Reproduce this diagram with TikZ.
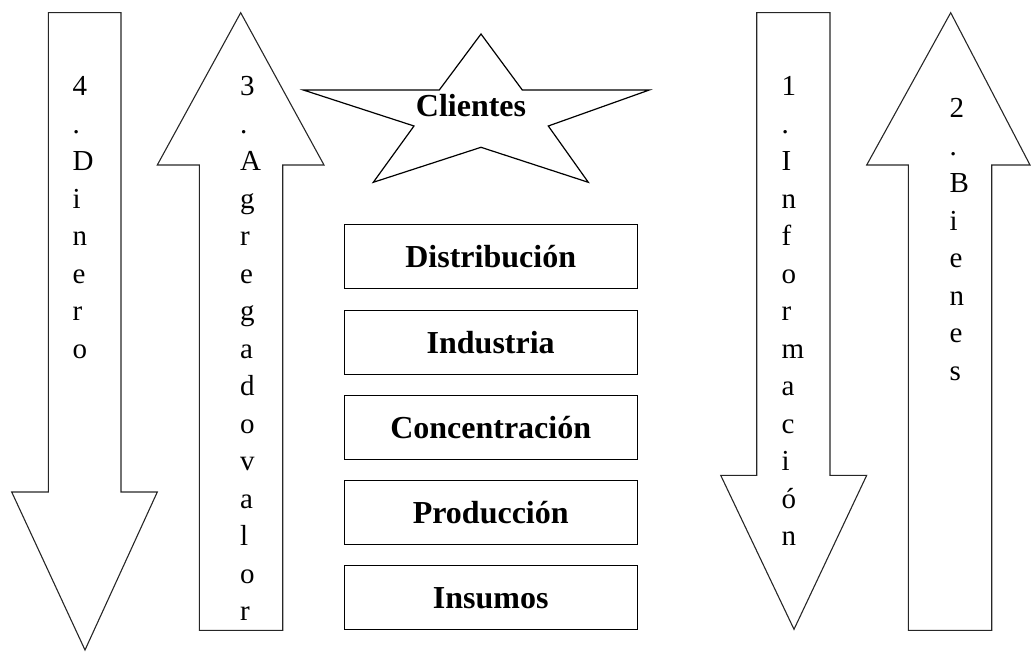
\documentclass[tikz,border=0pt]{standalone}
\usepackage{fontspec}
\setmainfont{Liberation Serif}
\begin{document}
\begin{tikzpicture}[x=1pt,y=-1pt,
  arrowshape/.style={draw=black!85,line width=1.1pt,line join=miter},
  starshape/.style={draw=black,line width=1.2pt,line join=miter},
  stage/.style={draw=black,line width=1.3pt,rectangle,minimum width=293pt,minimum height=64pt,
    inner sep=0pt,font=\fontsize{32}{38}\selectfont\bfseries,text height=22pt,text depth=0pt},
  vlabel/.style={anchor=north west,align=left,inner sep=0pt,font=\fontsize{29}{37.5}\selectfont},
  starlabel/.style={anchor=base,inner sep=0pt,font=\fontsize{32}{38}\selectfont\bfseries}]
\useasboundingbox (0,0) rectangle (1031,652);

% 4. Dinero (down)
\draw[arrowshape] (48.3,12.7) -- (121,12.7) -- (121,492) -- (157.3,492) -- (85,650)
  -- (11.7,492) -- (48.3,492) -- cycle;
% 3. Agregado valor (up)
\draw[arrowshape] (240.7,12.7) -- (324,165) -- (282.7,165) -- (282.7,630.3)
  -- (199.3,630.3) -- (199.3,165) -- (157.3,165) -- cycle;
% 1. Informacion (down)
\draw[arrowshape] (756.7,12.7) -- (830,12.7) -- (830,475.3) -- (866.7,475.3) -- (794,629.3)
  -- (720.7,475.3) -- (756.7,475.3) -- cycle;
% 2. Bienes (up)
\draw[arrowshape] (950.7,12.7) -- (1030,165) -- (991.7,165) -- (991.7,630.3)
  -- (908.3,630.3) -- (908.3,165) -- (866.7,165) -- cycle;

\node[vlabel] (t4) at (72.5,76.4) {4\\.\\D\\i\\n\\e\\r\\o};
\node[vlabel] (t3) at (240,76.4) {3\\.\\A\\g\\r\\e\\g\\a\\d\\o\\v\\a\\l\\o\\r};
\node[vlabel] (t1) at (781.5,76.4) {1\\.\\I\\n\\f\\o\\r\\m\\a\\c\\i\\ó\\n};
\node[vlabel] (t2) at (949.5,98.4) {2\\.\\B\\i\\e\\n\\e\\s};

% star
\draw[starshape] (481,34) -- (522.3,90) -- (649.3,90) -- (548.3,126) -- (588.3,182.3)
  -- (481,147.3) -- (373.3,182.3) -- (414,126) -- (303.3,90) -- (439.3,90) -- cycle;
\node[starlabel] (clientes) at (471,117) {Clientes};

% stages
\node[stage] (dist) at (490.7,256.5) {Distribución};
\node[stage] (ind)  at (490.7,342.5) {Industria};
\node[stage] (conc) at (490.7,427.5) {Concentración};
\node[stage] (prod) at (490.7,512.5) {Producción};
\node[stage] (ins)  at (490.7,597.8) {Insumos};
\end{tikzpicture}
\end{document}
